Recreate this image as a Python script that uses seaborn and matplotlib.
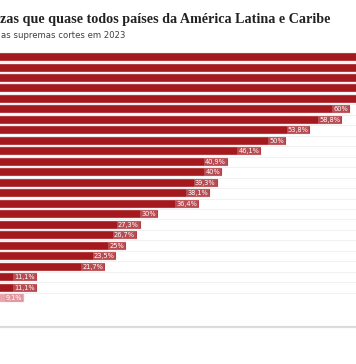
import matplotlib
matplotlib.use("Agg")
import matplotlib.pyplot as plt
import seaborn as sns
import pandas as pd
from matplotlib.lines import Line2D

# ---- data (top five bars run past the frame) ----
countries = ["País A", "País B", "País C", "País D", "País E", "País F",
             "País G", "País H", "País I", "País J", "País K", "País L",
             "País M", "País N", "País O", "País P", "País Q", "País R",
             "País S", "País T", "País U", "País V", "País W", "Brasil"]
values = [85.7, 77.8, 72.7, 71.4, 66.7, 60.0, 58.8, 53.8, 50.0, 46.1, 40.9, 40.0,
          39.3, 38.1, 36.4, 30.0, 27.3, 26.7, 25.0, 23.5, 21.7, 11.1, 11.1, 9.1]
labels = ["85,7%", "77,8%", "72,7%", "71,4%", "66,7%", "60%", "58,8%", "53,8%",
          "50%", "46,1%", "40,9%", "40%", "39,3%", "38,1%", "36,4%", "30%",
          "27,3%", "26,7%", "25%", "23,5%", "21,7%", "11,1%", "11,1%", "9,1%"]
highlight = "Brasil"

title = "zas que quase todos países da América Latina e Caribe"
subtitle = "as supremas cortes em 2023"

DARK = "#a3191e"
LIGHT = "#e9a4ab"

df = pd.DataFrame({"pais": countries, "valor": values})
palette = {c: (LIGHT if c == highlight else DARK) for c in countries}

W, H = 356, 364
fig = plt.figure(figsize=(W / 100, H / 100), dpi=100)
sns.set_style("white")

# axes placed so the chart is cropped as in the reference
x0_px, px_per_pct = -34.0, 6.4
top_px, bot_px = 51.8, 303.3
ax = fig.add_axes([x0_px / W, (H - bot_px) / H, 100 * px_per_pct / W, (bot_px - top_px) / H])

for i in range(len(countries)):
    ax.axhline(i + 0.5, color="#efefef", lw=0.6, zorder=0)

sns.barplot(data=df, y="pais", x="valor", hue="pais", palette=palette,
            orient="h", width=0.76, legend=False, ax=ax, saturation=1,
            edgecolor="#f4d3d6", linewidth=0.3, zorder=2)

ax.set_xlim(0, 100)
ax.set_ylim(len(countries) - 0.5, -0.5)
ax.set_xlabel("")
ax.set_ylabel("")
ax.set_xticks([])
ax.set_yticks([])
for s in ax.spines.values():
    s.set_visible(False)

# visible right edge of the frame, in data units
x_visible = (W - x0_px) / px_per_pct
for i, (v, lab) in enumerate(zip(values, labels)):
    if v > x_visible:
        continue
    hl = countries[i] == highlight
    ax.text(v - 0.3, i, lab, ha="right", va="center", fontsize=4.8,
            color="#ffffff", family="DejaVu Sans", zorder=3,
            bbox=dict(boxstyle="square,pad=0.15", fc="#d98f97" if hl else "#c9777d",
                      ec="none", alpha=0.55))

fig.text(0.5 / W, 1 - 23 / H, title, fontsize=10.2, fontweight="bold",
         family="Liberation Serif", color="#222222", ha="left", va="baseline")
fig.text(1 / W, 1 - 37.5 / H, subtitle, fontsize=6.1,
         family="DejaVu Sans", color="#404040", ha="left", va="baseline")

fig.add_artist(Line2D([0, 1], [1 - 327 / H, 1 - 327 / H], transform=fig.transFigure,
                      color="#dcdcdc", lw=1.6))

fig.savefig("out.png", dpi=100, facecolor="white")
